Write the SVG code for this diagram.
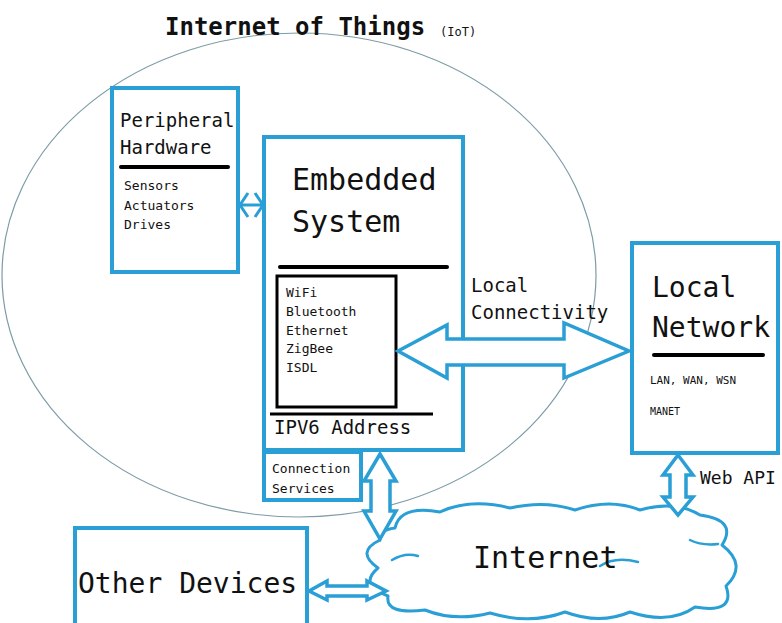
<svg xmlns="http://www.w3.org/2000/svg" width="782" height="623" viewBox="0 0 782 623">
<defs>
<style>
text{font-family:"DejaVu Sans Mono","Liberation Mono",monospace;fill:#111}
.box{fill:#fff;stroke:#2a9fd6;stroke-width:4}
.bar{stroke:#000;stroke-width:4;stroke-linecap:round}
.arr{fill:#fff;stroke:#2a9fd6;stroke-width:3.5;stroke-linejoin:miter}
.sm{font-size:13px}
.cl{fill:#fff;stroke:#2a9fd6;stroke-width:3;stroke-linejoin:round}
.curl{fill:none;stroke:#2a9fd6;stroke-width:2.5;stroke-linecap:round}
</style>
</defs>
<rect width="782" height="623" fill="#fff"/>
<g id="iot-boundary">
<ellipse cx="299" cy="275" rx="297" ry="242" fill="none" stroke="#7d9ca6" stroke-width="1.2"/>
<text x="165" y="35" font-size="24" font-weight="bold">Internet of Things</text>
<text x="440" y="36" font-size="12">(IoT)</text>
</g>
<g id="cloud-internet">
<path class="cl" d="M395 528 Q400 505 440 512 Q470 498 510 508 Q545 500 575 510 Q610 498 640 510 Q675 500 700 515 Q738 520 722 545 Q748 565 726 586 Q736 614 695 607 Q670 625 630 612 Q600 625 565 612 Q530 625 490 613 Q455 622 425 610 Q385 615 388 596 Q358 585 378 568 Q355 552 380 540 Q378 530 395 528 Z"/>
<path class="curl" d="M600 566 Q615 556 638 562"/>
<path class="curl" d="M392 560 Q405 552 418 556"/>
<path class="curl" d="M690 540 Q702 546 718 544"/>
<text x="473" y="568" font-size="30">Internet</text>
</g>
<g id="peripheral-hardware">
<rect class="box" x="112" y="88" width="126" height="184"/>
<text x="120" y="127" font-size="19">Peripheral</text>
<text x="120" y="154" font-size="19">Hardware</text>
<line class="bar" x1="121" y1="167" x2="228" y2="167"/>
<text class="sm" x="124" y="190">Sensors</text>
<text class="sm" x="124" y="210">Actuators</text>
<text class="sm" x="124" y="229">Drives</text>
</g>
<g id="embedded-system">
<rect class="box" x="264" y="137" width="199" height="313" stroke-width="5"/>
<text x="292" y="190" font-size="30">Embedded</text>
<text x="292" y="232" font-size="30">System</text>
<line class="bar" x1="280" y1="267" x2="447" y2="267" stroke-width="5"/>
<rect x="277" y="276" width="119" height="131" fill="#fff" stroke="#000" stroke-width="3"/>
<text class="sm" x="286" y="297">WiFi</text>
<text class="sm" x="286" y="316">Bluetooth</text>
<text class="sm" x="286" y="335">Ethernet</text>
<text class="sm" x="286" y="353">ZigBee</text>
<text class="sm" x="286" y="372">ISDL</text>
<line x1="270" y1="414" x2="433" y2="414" stroke="#000" stroke-width="3"/>
<text x="274" y="434" font-size="19">IPV6 Address</text>
</g>
<g id="connection-services">
<rect class="box" x="264" y="452" width="97" height="48" stroke-width="3"/>
<text class="sm" x="272" y="473">Connection</text>
<text class="sm" x="272" y="493">Services</text>
</g>
<g id="local-network">
<rect class="box" x="632" y="243" width="146" height="210"/>
<text x="652" y="297" font-size="28">Local</text>
<text x="652" y="337" font-size="28">Network</text>
<line class="bar" x1="654" y1="355" x2="763" y2="355"/>
<text x="650" y="384" font-size="11">LAN, WAN, WSN</text>
<text x="650" y="415" font-size="10">MANET</text>
</g>
<g id="other-devices">
<rect class="box" x="75" y="528" width="232" height="100"/>
<text x="78" y="593" font-size="28">Other Devices</text>
</g>
<g id="connectors">
<path class="arr" d="M398 351 L447 325 L447 339 L564 339 L564 323 L629 351 L564 378 L564 365 L447 365 L447 378 Z"/>
<path class="arr" d="M380 454 L396 481 L390 481 L390 511 L396 511 L380 539 L364 511 L371 511 L371 481 L364 481 Z"/>
<path class="arr" d="M678 455 L693 475 L686 475 L686 497 L693 497 L678 515 L663 497 L670 497 L670 475 L663 475 Z"/>
<path class="arr" d="M309 591 L327 581 L327 586 L367 586 L367 581 L386 591 L367 600 L367 596 L327 596 L327 600 Z" stroke-width="3"/>
<g fill="none" stroke="#2a9fd6" stroke-width="3">
<line x1="240" y1="205" x2="262" y2="205"/>
<polyline points="248,193 240,205 248,217"/>
<polyline points="255,193 263,205 255,217"/>
</g>
<text x="471" y="292" font-size="19">Local</text>
<text x="471" y="319" font-size="19">Connectivity</text>
<text x="700" y="484" font-size="18">Web API</text>
</g>
</svg>
